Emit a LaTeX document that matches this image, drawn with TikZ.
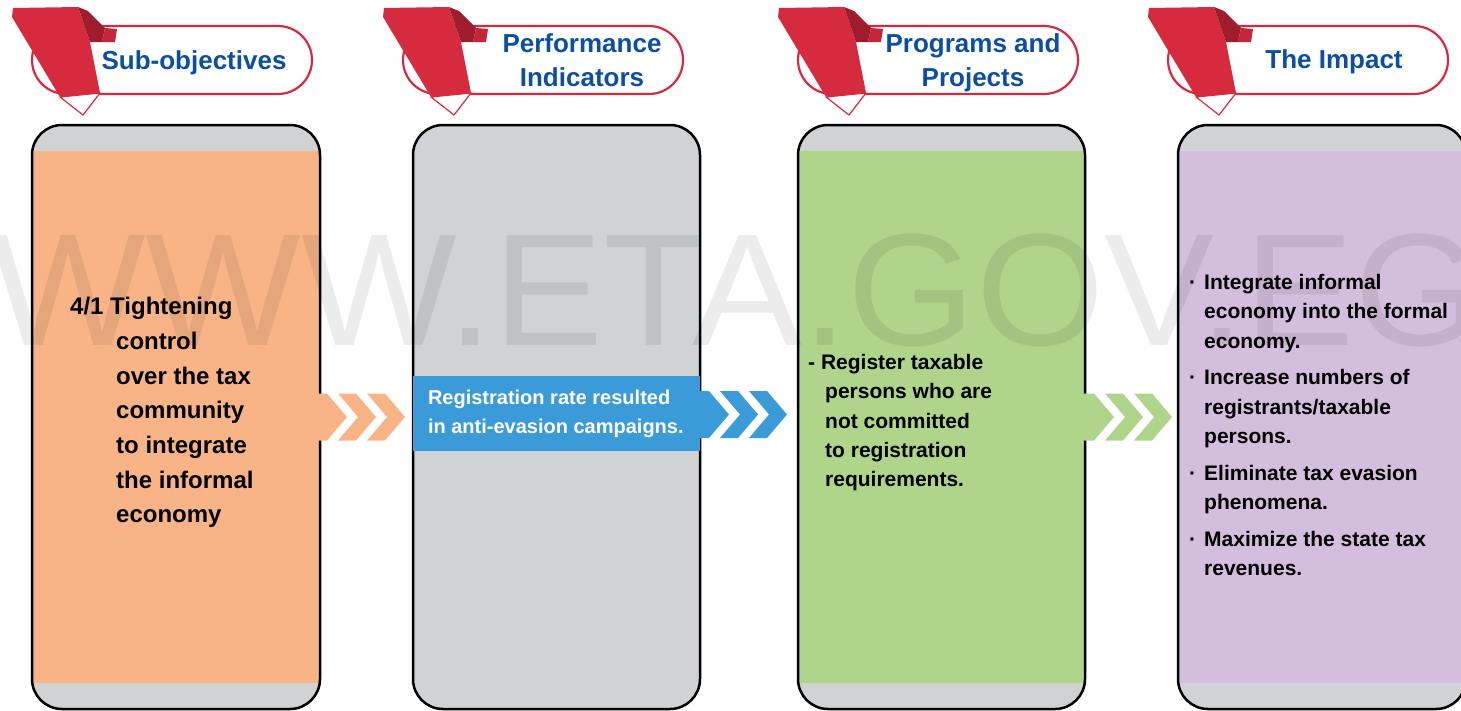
\documentclass[tikz,border=0pt]{standalone}
\usepackage{fontspec}
\setmainfont{Liberation Sans}
\usetikzlibrary{calc}
\definecolor{subfill}{HTML}{F8B486}
\definecolor{panelgray}{HTML}{D1D2D4}
\definecolor{progfill}{HTML}{AFD58B}
\definecolor{impfill}{HTML}{D4BEDD}
\definecolor{barblue}{HTML}{3B9BD9}
\definecolor{headblue}{HTML}{0B4EA2}
\definecolor{ribbonred}{HTML}{D62A3F}
\definecolor{ribbondark}{HTML}{9E1C2D}
\definecolor{ribbonmid}{HTML}{C3253A}
\def\ribbon(#1){%
	\begin{scope}[shift={(#1)}]
		\fill[ribbonred] (1,8) -- (66,7) -- (78,42) -- (88,93) -- (48,97) -- (0,17) -- cycle;
		\fill[ribbondark] (66,7) -- (76,11) -- (93,28) -- (90,42) -- (78,42) -- cycle;
		\fill[ribbonmid] (93,28) -- (105,29) -- (103,42) -- (90,42) -- cycle;
		\draw[ribbonred, fill=white, line width=1.2pt, line join=round] (48,97) -- (88,93) -- (71,115) -- cycle;
	\end{scope}}
\def\chevrons#1#2{%
	\fill[#1] ($(#2)+(0,-23.5)$) -- ++(17,0) -- ++(20,23.5) -- ++(-20,23.5) -- ++(-17,0) -- cycle;
	\foreach \dx in {28,57}
		\fill[#1] ($(#2)+(\dx,-23.5)$) -- ++(18,0) -- ++(20,23.5) -- ++(-20,23.5) -- ++(-18,0) -- ++(20,-23.5) -- cycle;}
\tikzset{
	panel/.style={draw=black, line width=2.5pt, rounded corners=30pt, fill=panelgray, minimum width=288pt, minimum height=584pt, inner sep=0pt, outer sep=0pt},
	band/.style={path picture={\fill[#1, sharp corners] ([yshift=-26pt]path picture bounding box.north west) rectangle ([yshift=26pt]path picture bounding box.south east);}},
	pill/.style={draw=ribbonred, line width=2.2pt, fill=white, rounded corners=34pt, minimum width=280pt, minimum height=68pt, inner sep=0pt},
	headtext/.style={text=headblue, font=\fontsize{26}{34}\selectfont\bfseries, align=center, inner sep=0pt},
	bodytext/.style={font=\fontsize{21}{29.3}\selectfont\bfseries, align=left, inner sep=0pt, anchor=north west},
	bar/.style={fill=barblue, minimum width=287pt, minimum height=75pt, inner sep=0pt},
	bartext/.style={text=white, font=\fontsize{20}{29}\selectfont\bfseries, align=left, inner sep=0pt, anchor=west}
}

\begin{document}
\begin{tikzpicture}[x=1pt, y=-1pt]
	%%%%% START %%%%%
	\clip (0,0) rectangle (1461,710);
	
	%%%%% headers %%%%%
	\node[pill] (hsub) at (172,60) {};
	\ribbon(12,0)
	\node[headtext] (tsub) at (194,63) {Sub-objectives};
	
	\node[pill] (hperf) at (543,60) {};
	\ribbon(383,0)
	\node[headtext] (tperf) at (582,60) {Performance\\Indicators};
	
	\node[pill] (hprog) at (938,60) {};
	\ribbon(778,0)
	\node[headtext] (tprog) at (973,63) {Programs and\\Projects};
	
	\node[pill] (himp) at (1308,60) {};
	\ribbon(1148,0)
	\node[headtext] (timp) at (1334,62) {The Impact};
	
	%%%%% panels %%%%%
	\node[panel, band=subfill] (sub) at (176,417) {};
	\node[panel, minimum width=287pt] (perf) at (556.5,417) {};
	\node[panel, minimum width=287pt, band=progfill] (prog) at (941.5,417) {};
	\node[panel, band=impfill] (imp) at (1322,417) {};
	
	\node[bar] (rate) at (556.5,413.5) {};
	\node[bartext] (trate) at ([xshift=15pt]rate.west) {Registration rate resulted\\in anti-evasion campaigns.};
	
	%%%%% watermark %%%%%
	\node[anchor=base west, inner sep=0pt, font=\fontsize{160}{160}\selectfont, text=black, text opacity=0.075] (wm) at (-10,345) {\scalebox{1.03}[1]{WWW.ETA.GOV.EG}};
	
	%%%%% arrows %%%%%
	\coordinate (a1) at ([xshift=-10pt]sub.east);
	\coordinate (a2) at ([xshift=-8pt, yshift=2.5pt]perf.east);
	\coordinate (a3) at ([xshift=-8pt]prog.east);
	\chevrons{subfill}{a1}
	\chevrons{barblue}{a2}
	\chevrons{progfill}{a3}
	
	%%%%% texts %%%%%
	\node[bodytext, font=\fontsize{24}{34.7}\selectfont\bfseries] (tsubobj) at (70,297) {4/1 Tightening\\\hspace*{46pt}control\\\hspace*{46pt}over the tax\\\hspace*{46pt}community\\\hspace*{46pt}to integrate\\\hspace*{46pt}the informal\\\hspace*{46pt}economy};
	
	\node[bodytext] (tproj) at (808,354) {- Register taxable\\\hspace*{17pt}persons who are\\\hspace*{17pt}not committed\\\hspace*{17pt}to registration\\\hspace*{17pt}requirements.};
	
	\node[bodytext] (timpact) at (1189,274) {\makebox[15pt][l]{·}Integrate informal\\\hspace*{15pt}economy into the formal\\\hspace*{15pt}economy.\\[7.5pt]
		\makebox[15pt][l]{·}Increase numbers of\\\hspace*{15pt}registrants/taxable\\\hspace*{15pt}persons.\\[7.5pt]
		\makebox[15pt][l]{·}Eliminate tax evasion\\\hspace*{15pt}phenomena.\\[7.5pt]
		\makebox[15pt][l]{·}Maximize the state tax\\\hspace*{15pt}revenues.};
	
	%%%%% END %%%%%
\end{tikzpicture}
\end{document}
